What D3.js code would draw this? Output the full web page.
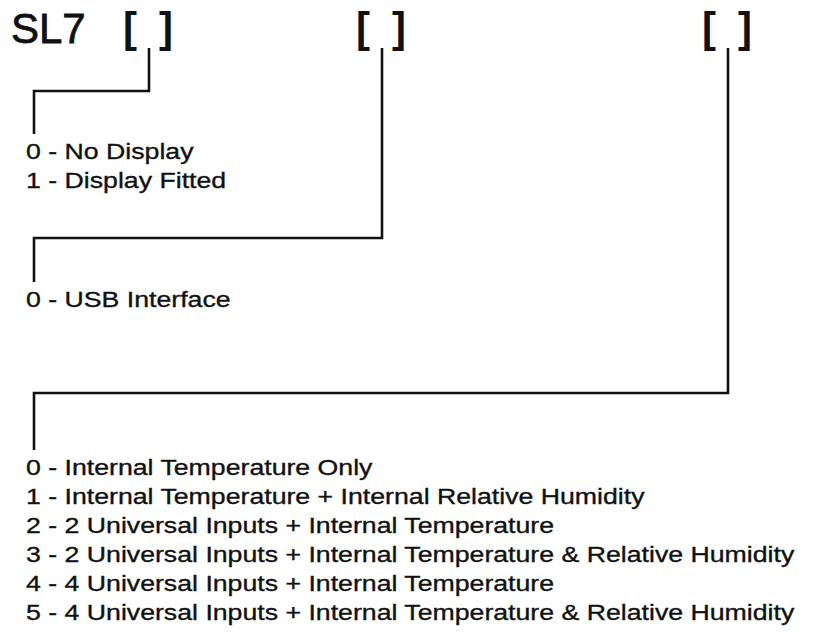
<!DOCTYPE html>
<html>
<head>
<meta charset="utf-8">
<script src="https://cdn.jsdelivr.net/npm/d3@7"></script>
<style>
  body { margin: 0; background: #fff; }
</style>
</head>
<body>
<div id="chart"></div>
<script>
// product code
var codePrefix = "SL7";

// options for each [ ] slot, left to right
var slotOptions = [
	["0 - No Display", "1 - Display Fitted"],
	["0 - USB Interface"],
	[
		"0 - Internal Temperature Only",
		"1 - Internal Temperature + Internal Relative Humidity",
		"2 - 2 Universal Inputs + Internal Temperature",
		"3 - 2 Universal Inputs + Internal Temperature & Relative Humidity",
		"4 - 4 Universal Inputs + Internal Temperature",
		"5 - 4 Universal Inputs + Internal Temperature & Relative Humidity"
	]
];

// layout
var width = 814, height = 633;
var font = "'Liberation Sans', Arial, Helvetica, sans-serif";
var ink = "#111";
var slotX = [148, 381, 727];        // bracket centres
var elbowY = [91, 238, 393];        // horizontal leader heights
var firstBaseline = [159, 307, 475];
var rowGap = 29.1;
var textX = 26, leaderX = 34;
var textStretch = 1.186;            // the option text is drawn wide
var bracketTop = 48;

var svg = d3.select("#chart").append("svg")
	.attr("width", width)
	.attr("height", height);

svg.append("text")
	.attr("x", 11)
	.attr("y", 43)
	.attr("font-family", font)
	.attr("font-size", 42)
	.attr("fill", ink)
	.attr("stroke", ink)
	.attr("stroke-width", 0.8)
	.text(codePrefix);

var slots = svg.selectAll("g.slot")
		.data(slotOptions)
	.enter().append("g")
		.attr("class", "slot");

slots.append("text")
	.attr("x", function(d, i) { return slotX[i] - 18; })
	.attr("y", 42)
	.attr("text-anchor", "middle")
	.attr("font-family", font)
	.attr("font-size", 42)
	.attr("font-weight", "bold")
	.attr("fill", ink)
	.text("[");

slots.append("text")
	.attr("x", function(d, i) { return slotX[i] + 18; })
	.attr("y", 42)
	.attr("text-anchor", "middle")
	.attr("font-family", font)
	.attr("font-size", 42)
	.attr("font-weight", "bold")
	.attr("fill", ink)
	.text("]");

var leader = d3.line();
slots.append("path")
	.attr("fill", "none")
	.attr("stroke", ink)
	.attr("stroke-width", 2.6)
	.attr("d", function(d, i) {
		var lineX = slotX[i] + 1;
		return leader([
			[lineX, bracketTop],
			[lineX, elbowY[i]],
			[leaderX, elbowY[i]],
			[leaderX, firstBaseline[i] - 25]
		]);
	});

slots.each(function(opts, i) {
	var y = d3.scaleLinear()
		.domain([0, 1])
		.range([firstBaseline[i], firstBaseline[i] + rowGap]);
	d3.select(this).append("g")
			.attr("transform", "translate(" + textX + ",0) scale(" + textStretch + ",1)")
		.selectAll("text.opt")
			.data(opts)
		.enter().append("text")
			.attr("class", "opt")
			.attr("x", 0)
			.attr("y", function(d, j) { return y(j); })
			.attr("font-family", font)
			.attr("font-size", 22.5)
			.attr("fill", ink)
			.attr("stroke", ink)
			.attr("stroke-width", 0.35)
			.text(function(d) { return d; });
});
</script>
</body>
</html>
